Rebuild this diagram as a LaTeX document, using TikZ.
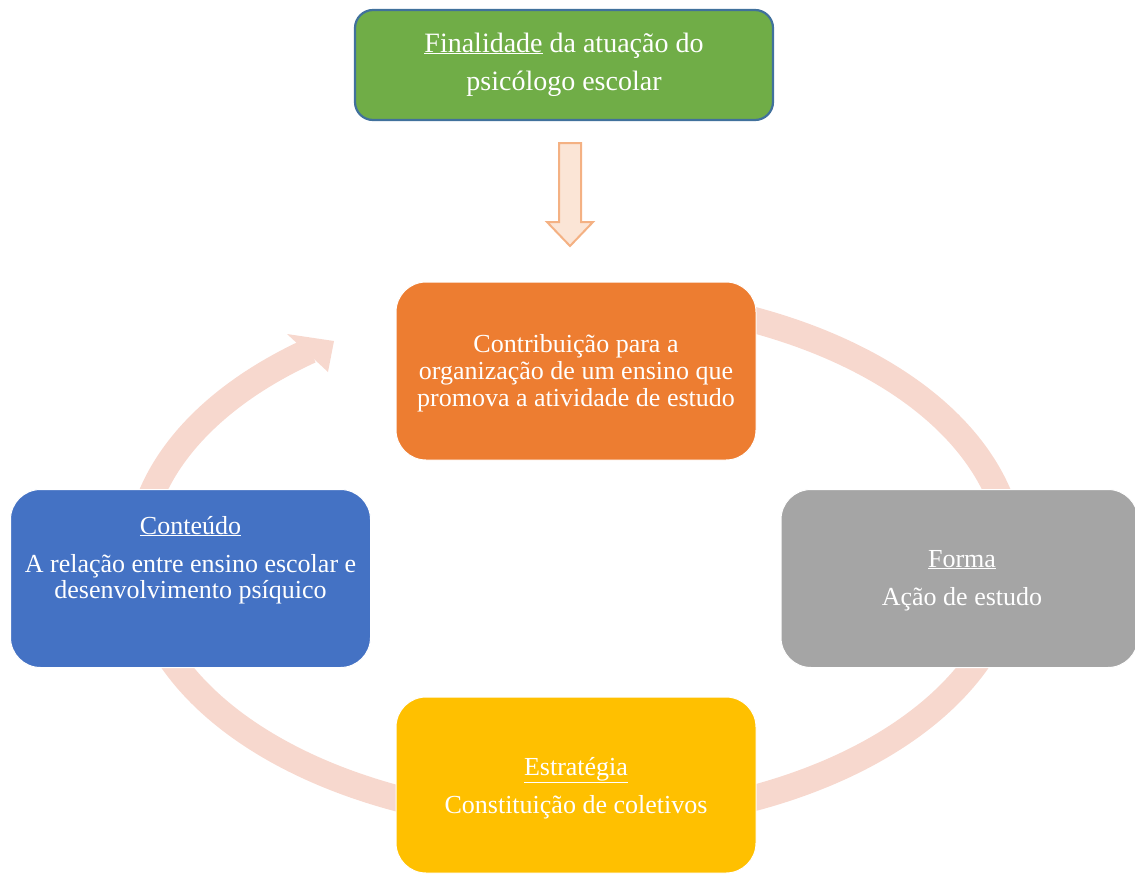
\documentclass[tikz,border=0pt]{standalone}
\usepackage{fontspec}
\setmainfont{Liberation Serif}
\usetikzlibrary{arrows.meta,bending}
\definecolor{cGreen}{HTML}{70AD47}
\definecolor{cGreenLine}{HTML}{41719C}
\definecolor{cOrange}{HTML}{ED7D31}
\definecolor{cBlue}{HTML}{4472C4}
\definecolor{cGrey}{HTML}{A5A5A5}
\definecolor{cYellow}{HTML}{FFC000}
\definecolor{cRing}{HTML}{F7D8CE}
\definecolor{cArrFill}{HTML}{FBE5D6}
\definecolor{cArrLine}{HTML}{F4B183}
\tikzset{
  box/.style={rectangle, rounded corners=30pt, draw=white, line width=1pt,
    minimum width=360pt, minimum height=178pt, inner sep=0pt},
  topbox/.style={rectangle, rounded corners=18pt, draw=cGreenLine, line width=2.2pt,
    fill=cGreen, minimum width=418pt, minimum height=110pt, inner sep=0pt},
  txt/.style={text=white, anchor=base, inner sep=0pt, font=\fontsize{26}{27}\selectfont},
  toptxt/.style={text=white, anchor=base, inner sep=0pt, font=\fontsize{28}{34}\selectfont},
  ring/.style={draw=cRing, line width=26pt},
  ringhead/.style={fill=cRing, draw=none},
  blockarrow/.style={fill=cArrFill, draw=cArrLine, line width=2pt, line join=miter}
}
\begin{document}
\begin{tikzpicture}[x=1pt,y=1pt]
\useasboundingbox (0,0) rectangle (1135,-873);
% cycle ring
\draw[ring]
  (575,-559) ++(110:437pt and 262pt) coordinate (ringstart)
  arc[start angle=110, end angle=-232.7, x radius=437, y radius=262] coordinate (ringend);
\coordinate (headA) at (287,-334);
\coordinate (headTip) at (334,-341);
\coordinate (headB) at (328,-372);
\fill[ringhead] (headA) -- (headTip) -- (headB) -- cycle;
% top box
\node[topbox] (fin) at (564,-65) {};
\node[toptxt] (fin1) at (564,-52) {\underline{Finalidade} da atuação do};
\node[toptxt] (fin2) at (564,-90) {psicólogo escolar};
% block arrow
\draw[blockarrow] (559,-143) -- (581,-143) -- (581,-222) -- (593,-222) -- (570,-246)
  -- (547,-222) -- (559,-222) -- cycle;
% cycle nodes
\node[box, fill=cOrange] (contrib) at (576,-371) {};
\node[txt] (c1) at (576,-352) {Contribuição para a};
\node[txt] (c2) at (576,-379) {organização de um ensino que};
\node[txt] (c3) at (576,-406) {promova a atividade de estudo};
\node[box, fill=cBlue] (conteudo) at (190.5,-578.5) {};
\node[txt] (b1) at (190.5,-534) {\underline{Conteúdo}};
\node[txt] (b2) at (190.5,-572) {A relação entre ensino escolar e};
\node[txt] (b3) at (190.5,-598.5) {desenvolvimento psíquico};
\node[box, fill=cGrey, minimum width=357pt] (forma) at (959.5,-578.5) {};
\node[txt] (g1) at (962,-567) {\underline{Forma}};
\node[txt] (g2) at (962,-605) {Ação de estudo};
\node[box, fill=cYellow, minimum height=176pt] (estrategia) at (576,-785) {};
\node[txt] (y1) at (576,-775) {\underline{Estratégia}};
\node[txt] (y2) at (576,-813) {Constituição de coletivos};
\end{tikzpicture}
\end{document}
